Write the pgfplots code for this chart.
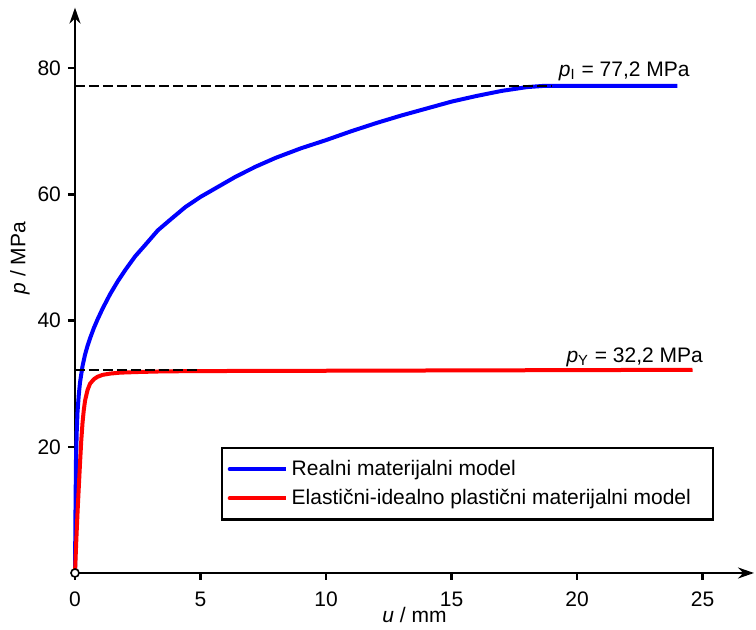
\documentclass[border=0pt]{standalone}
\usepackage{fontspec}
\setmainfont{Liberation Sans}
\usepackage{pgfplots}
\pgfplotsset{compat=1.18}
\usetikzlibrary{arrows.meta}
\definecolor{pblue}{RGB}{0,0,255}
\definecolor{pred}{RGB}{255,0,0}
\begin{document}
\begin{tikzpicture}[font=\fontsize{10.5}{12.6}\selectfont]
\begin{axis}[
  at={(0,0)}, anchor=origin,
  scale only axis,
  width=339.5pt, height=282.7pt,
  xmin=0, xmax=27.05, ymin=0, ymax=89.6,
  axis lines=left,
  axis line style={line width=1.2pt, -{Stealth[length=8pt,width=5.5pt]}},
  xtick={0,5,10,15,20,25},
  ytick={20,40,60,80},
  tick align=outside,
  major tick length=3.5pt,
  tick style={line width=1.2pt, black},
  /pgf/number format/assume math mode=true,
  xticklabel style={yshift=-2.5pt},
  xlabel={\textit{u} / mm},
  ylabel={\textit{p} / MPa},
  xlabel style={at={(axis description cs:0.5,0)}, anchor=center, yshift=-21pt},
  ylabel style={at={(axis description cs:-0.081,0.557)}, anchor=center, rotate=0},
  clip=false,
  legend style={at={(axis description cs:0.2143,0.2232)}, anchor=north west,
    draw=black, line width=1.2pt, inner xsep=3pt, inner ysep=4pt,
    cells={anchor=west}, row sep=1.5pt},
  legend image code/.code={\draw[#1, line cap=round] (0pt,0pt) -- (22pt,0pt); \path (0pt,0pt) -- (28pt,0pt);},
]
\addplot[pblue, line width=2pt, line join=round] coordinates {
(0,0)(0.02,10)(0.04,18)(0.07,22.5)(0.1,25.5)(0.15,28.2)(0.2,30.2)(0.3,32.8)(0.4,34.6)
(0.5,36.0)(0.6,37.2)(0.75,38.8)(0.9,40.2)(1.1,41.9)(1.4,44.2)(1.7,46.2)(2.0,48.0)
(2.4,50.2)(2.8,52.0)(3.3,54.3)(3.8,56.0)(4.4,58.0)(5.0,59.6)(5.7,61.2)(6.4,62.8)
(7.2,64.4)(8.0,65.8)(9.0,67.3)(10,68.6)(11,70.0)(12,71.3)(13,72.5)(14,73.6)(15,74.7)
(16,75.6)(17,76.4)(18,77.0)(18.7,77.2)(24,77.2)};
\addlegendentry{Realni materijalni model}
\addplot[pred, line width=2pt, line join=round] coordinates {
(0,0)(0.05,5)(0.1,9.5)(0.15,13.5)(0.2,17.4)(0.25,21)(0.3,23.8)(0.35,25.8)(0.4,27.3)
(0.5,29.0)(0.6,30.0)(0.75,30.7)(0.9,31.1)(1.1,31.4)(1.4,31.6)(1.8,31.75)(2.5,31.85)
(3.5,31.95)(5,32.0)(10,32.05)(15,32.1)(20,32.15)(24.6,32.2)};
\addlegendentry{Elastični-idealno plastični materijalni model\hspace*{6pt}}
\addplot[black, line width=0.8pt, dash pattern=on 5pt off 2pt, forget plot] coordinates {(0,77.2)(19,77.2)};
\addplot[black, line width=0.8pt, dash pattern=on 5pt off 2pt, forget plot] coordinates {(0,32.2)(5,32.2)};
\addplot[only marks, mark=*, mark size=2pt, mark options={fill=white, draw=black, line width=0.8pt}, forget plot] coordinates {(0,0)};
\node[anchor=base west] at (axis cs:19.0,78.65) {\textit{p}\textsubscript{I} = 77,2 MPa};
\node[anchor=base west] at (axis cs:19.3,33.4) {\textit{p}\textsubscript{Y} = 32,2 MPa};
\end{axis}
\useasboundingbox (-37.5pt,-28.5pt) rectangle (340.5pt,286.5pt);
\end{tikzpicture}
\end{document}
